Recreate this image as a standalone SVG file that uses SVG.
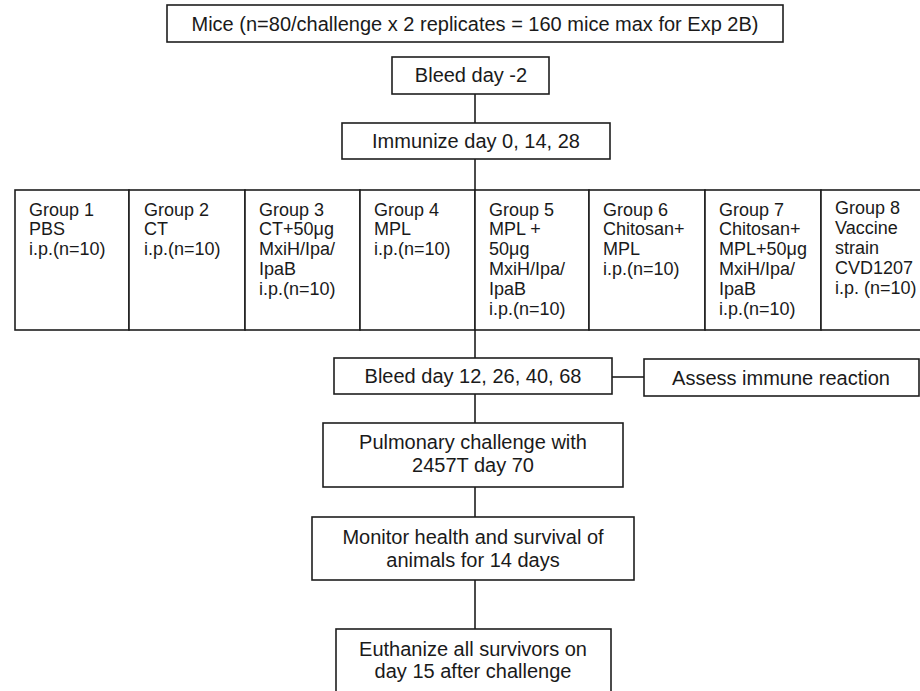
<svg xmlns="http://www.w3.org/2000/svg" width="920" height="691" viewBox="0 0 920 691">
<style>
.box{fill:#fff;stroke:#1e1e1e;stroke-width:1.6}
.ln{stroke:#1e1e1e;stroke-width:1.6;fill:none}
.t{font-family:"Liberation Sans",Arial,sans-serif;font-size:20px;fill:#1a1a1a;text-anchor:middle}
.g{font-family:"Liberation Sans",Arial,sans-serif;font-size:18px;fill:#1a1a1a}
</style>
<rect width="920" height="691" fill="#fff"/>
<g id="connectors">
<line class="ln" x1="475" y1="94" x2="475" y2="123"/>
<line class="ln" x1="475" y1="159" x2="475" y2="190"/>
<line class="ln" x1="475" y1="330" x2="475" y2="358"/>
<line class="ln" x1="475" y1="394" x2="475" y2="423"/>
<line class="ln" x1="475" y1="487" x2="475" y2="517"/>
<line class="ln" x1="475" y1="580" x2="475" y2="629"/>
<line class="ln" x1="612" y1="377" x2="644" y2="377"/>
</g>
<g id="mice">
<rect class="box" x="167" y="5" width="616" height="37"/>
<text class="t" x="475" y="31">Mice (n=80/challenge x 2 replicates = 160 mice max for Exp 2B)</text>
</g>
<g id="bleed0">
<rect class="box" x="392" y="57" width="157" height="37"/>
<text class="t" x="471" y="82">Bleed day -2</text>
</g>
<g id="immunize">
<rect class="box" x="342" y="123" width="268" height="36"/>
<text class="t" x="476" y="148">Immunize day 0, 14, 28</text>
</g>
<g id="group1">
<rect class="box" x="15" y="190" width="114" height="140"/>
<text class="g" x="29" y="216"><tspan x="29">Group 1</tspan><tspan x="29" dy="19">PBS</tspan><tspan x="29" dy="20">i.p.(n=10)</tspan></text>
</g>
<g id="group2">
<rect class="box" x="129" y="190" width="116" height="140"/>
<text class="g" x="144" y="216"><tspan x="144">Group 2</tspan><tspan x="144" dy="19">CT</tspan><tspan x="144" dy="20">i.p.(n=10)</tspan></text>
</g>
<g id="group3">
<rect class="box" x="245" y="190" width="115" height="140"/>
<text class="g" x="259" y="216"><tspan x="259">Group 3</tspan><tspan x="259" dy="19">CT+50μg</tspan><tspan x="259" dy="20">MxiH/Ipa/</tspan><tspan x="259" dy="20">IpaB</tspan><tspan x="259" dy="20">i.p.(n=10)</tspan></text>
</g>
<g id="group4">
<rect class="box" x="360" y="190" width="115" height="140"/>
<text class="g" x="374" y="216"><tspan x="374">Group 4</tspan><tspan x="374" dy="19">MPL</tspan><tspan x="374" dy="20">i.p.(n=10)</tspan></text>
</g>
<g id="group5">
<rect class="box" x="475" y="190" width="114" height="140"/>
<text class="g" x="489" y="216"><tspan x="489">Group 5</tspan><tspan x="489" dy="19">MPL +</tspan><tspan x="489" dy="20">50μg</tspan><tspan x="489" dy="20">MxiH/Ipa/</tspan><tspan x="489" dy="20">IpaB</tspan><tspan x="489" dy="20">i.p.(n=10)</tspan></text>
</g>
<g id="group6">
<rect class="box" x="589" y="190" width="116" height="140"/>
<text class="g" x="603" y="216"><tspan x="603">Group 6</tspan><tspan x="603" dy="19">Chitosan+</tspan><tspan x="603" dy="20">MPL</tspan><tspan x="603" dy="20">i.p.(n=10)</tspan></text>
</g>
<g id="group7">
<rect class="box" x="705" y="190" width="116" height="140"/>
<text class="g" x="719" y="216"><tspan x="719">Group 7</tspan><tspan x="719" dy="19">Chitosan+</tspan><tspan x="719" dy="20">MPL+50μg</tspan><tspan x="719" dy="20">MxiH/Ipa/</tspan><tspan x="719" dy="20">IpaB</tspan><tspan x="719" dy="20">i.p.(n=10)</tspan></text>
</g>
<g id="group8">
<rect class="box" x="821" y="190" width="116" height="140"/>
<text class="g" x="835" y="214"><tspan x="835">Group 8</tspan><tspan x="835" dy="20">Vaccine</tspan><tspan x="835" dy="20">strain</tspan><tspan x="835" dy="20">CVD1207</tspan><tspan x="835" dy="20">i.p. (n=10)</tspan></text>
</g>
<g id="bleed2">
<rect class="box" x="334" y="358" width="278" height="36"/>
<text class="t" x="473" y="383">Bleed day 12, 26, 40, 68</text>
</g>
<g id="assess">
<rect class="box" x="644" y="359" width="275" height="37"/>
<text class="t" x="781" y="385">Assess immune reaction</text>
</g>
<g id="challenge">
<rect class="box" x="323" y="423" width="300" height="64"/>
<text class="t" x="473" y="449">Pulmonary challenge with</text>
<text class="t" x="473" y="472">2457T day 70</text>
</g>
<g id="monitor">
<rect class="box" x="312" y="517" width="322" height="63"/>
<text class="t" x="473" y="544">Monitor health and survival of</text>
<text class="t" x="473" y="567">animals for 14 days</text>
</g>
<g id="euthanize">
<rect class="box" x="336" y="629" width="275" height="70"/>
<text class="t" x="473" y="656">Euthanize all survivors on</text>
<text class="t" x="473" y="678">day 15 after challenge</text>
</g>
</svg>
